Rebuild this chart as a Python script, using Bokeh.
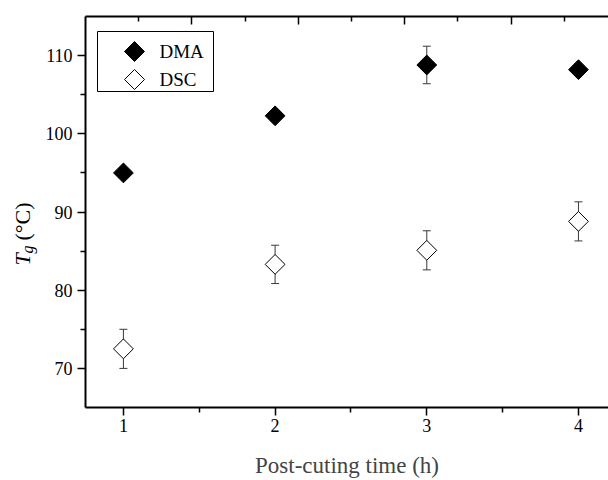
from bokeh.plotting import figure
from bokeh.layouts import row
from bokeh.models import (FixedTicker, LinearAxis, Range1d, Whisker, TeeHead,
                          ColumnDataSource, Label, BoxAnnotation, PolyAnnotation)
from bokeh.embed import file_html
from bokeh.resources import INLINE
import math

# ---- data ----
time_h = [1, 2, 3, 4]
dma_tg = [95.0, 102.3, 108.8, 108.2]
dma_err = [0.6, 0.5, 2.4, 0.6]
dsc_tg = [72.5, 83.3, 85.1, 88.8]
dsc_err = [2.5, 2.45, 2.5, 2.5]
x_ticks = [1, 2, 3, 4]
y_ticks = [70, 80, 90, 100, 110]

FONT = "Liberation Serif"
W, H = 608, 480
TITLE_W = 40                      # narrow strip holding the y-axis title
FRAME_LEFT, FRAME_BOTTOM = 85, 408

# screen units are relative to a figure's frame (origin bottom-left of frame);
# the frames of both figures in the row share top/bottom edges
def fy(y_img):
    return FRAME_BOTTOM - y_img

# ---- strip with the y-axis title (italic T, subscript g) ----
t = figure(width=TITLE_W, height=H, output_backend="svg", toolbar_location=None,
           x_range=Range1d(0, 1), y_range=Range1d(0, 1),
           min_border=0, x_axis_type=None, y_axis_type=None)
t.outline_line_color = None
t.grid.visible = False

t.add_layout(Label(x=22, y=fy(266), x_units="screen", y_units="screen", text="T",
                   angle=math.pi / 2, text_align="left", text_baseline="alphabetic",
                   text_font=FONT, text_font_size="22px", text_font_style="italic",
                   text_color="black"))
t.add_layout(Label(x=27, y=fy(254), x_units="screen", y_units="screen", text="g",
                   angle=math.pi / 2, text_align="left", text_baseline="alphabetic",
                   text_font=FONT, text_font_size="16px", text_font_style="italic",
                   text_color="black"))
t.add_layout(Label(x=22, y=fy(241), x_units="screen", y_units="screen", text="(°C)",
                   angle=math.pi / 2, text_align="left", text_baseline="alphabetic",
                   text_font=FONT, text_font_size="22px", text_color="black"))

# ---- main plot ----
p = figure(width=W - TITLE_W, height=H, output_backend="svg", toolbar_location=None,
           x_range=Range1d(0.75, 4.198), y_range=Range1d(65, 115),
           min_border_left=FRAME_LEFT - TITLE_W, min_border_right=0, min_border_top=16,
           min_border_bottom=H - FRAME_BOTTOM)
p.outline_line_color = None
p.grid.visible = False
p.background_fill_color = "white"

def style_axis(ax):
    ax.axis_line_width = 2
    ax.axis_line_color = "black"
    ax.major_tick_line_width = 1.5
    ax.minor_tick_line_width = 1.5
    ax.major_tick_line_color = "black"
    ax.minor_tick_line_color = "black"
    ax.major_label_text_font = FONT
    ax.major_label_text_font_size = "18px"
    ax.major_label_text_color = "black"

xa = p.xaxis[0]
style_axis(xa)
xa.ticker = FixedTicker(ticks=x_ticks, minor_ticks=[1.5, 2.5, 3.5])
xa.major_tick_out = 8
xa.major_tick_in = 0
xa.minor_tick_out = 5
xa.minor_tick_in = 0
xa.major_label_standoff = 3
xa.axis_label = "Post-cuting time (h)"
xa.axis_label_text_font = FONT
xa.axis_label_text_font_size = "23px"
xa.axis_label_text_font_style = "normal"
xa.axis_label_standoff = 18

ya = p.yaxis[0]
style_axis(ya)
ya.ticker = FixedTicker(ticks=y_ticks, minor_ticks=[75, 85, 95, 105])
ya.major_tick_out = 8
ya.major_tick_in = 0
ya.minor_tick_out = 5
ya.minor_tick_in = 0
ya.major_label_standoff = 5

# top axis (frame line with its own tick spacing, no labels)
p.extra_x_ranges = {"top": Range1d(0, 523 / 53.2)}
ta = LinearAxis(x_range_name="top")
style_axis(ta)
ta.ticker = FixedTicker(ticks=[2, 4, 6, 8], minor_ticks=[1, 3, 5, 7, 9])
ta.major_tick_in = 8
ta.major_tick_out = 0
ta.minor_tick_in = 5
ta.minor_tick_out = 0
ta.major_label_text_font_size = "1px"
ta.major_label_text_color = None
ta.major_label_standoff = 0
p.add_layout(ta, "above")

# error bars
src_dma = ColumnDataSource(dict(x=time_h, y=dma_tg,
                                lo=[v - e for v, e in zip(dma_tg, dma_err)],
                                hi=[v + e for v, e in zip(dma_tg, dma_err)]))
src_dsc = ColumnDataSource(dict(x=time_h, y=dsc_tg,
                                lo=[v - e for v, e in zip(dsc_tg, dsc_err)],
                                hi=[v + e for v, e in zip(dsc_tg, dsc_err)]))
for src in (src_dma, src_dsc):
    w = Whisker(base="x", lower="lo", upper="hi", source=src,
                line_color="#3a3a3a", line_width=1, level="underlay",
                upper_head=TeeHead(size=8, line_color="#3a3a3a", line_width=1),
                lower_head=TeeHead(size=8, line_color="#3a3a3a", line_width=1))
    p.add_layout(w)

p.scatter("x", "y", source=src_dma, marker="square", size=14, angle=math.pi / 4,
          fill_color="black", line_color="black", line_width=1)
p.scatter("x", "y", source=src_dsc, marker="square", size=14, angle=math.pi / 4,
          fill_color="white", line_color="black", line_width=1)

def fx(x_img):
    return x_img - FRAME_LEFT

# ---- legend (manual, to keep square diamonds) ----
p.add_layout(BoxAnnotation(left=fx(97), right=fx(213), top=fy(32), bottom=fy(92),
                           left_units="screen", right_units="screen",
                           top_units="screen", bottom_units="screen",
                           fill_color="white", fill_alpha=1,
                           line_color="black", line_alpha=1, line_width=1,
                           level="overlay"))
for cy, fill, name in ((52, "black", "DMA"), (80, "white", "DSC")):
    cx, r = 134, 10
    p.add_layout(PolyAnnotation(xs=[fx(cx), fx(cx + r), fx(cx), fx(cx - r)],
                                ys=[fy(cy - r), fy(cy), fy(cy + r), fy(cy)],
                                xs_units="screen", ys_units="screen",
                                fill_color=fill, fill_alpha=1, line_color="black",
                                line_alpha=1, line_width=1, level="overlay"))
    p.add_layout(Label(x=fx(159), y=fy(cy), x_units="screen", y_units="screen", text=name,
                       text_align="left", text_baseline="middle", text_font=FONT,
                       text_font_size="19px", text_color="black", level="overlay"))

layout = row(t, p, spacing=0)
open("out.html", "w").write(file_html(layout, INLINE))
